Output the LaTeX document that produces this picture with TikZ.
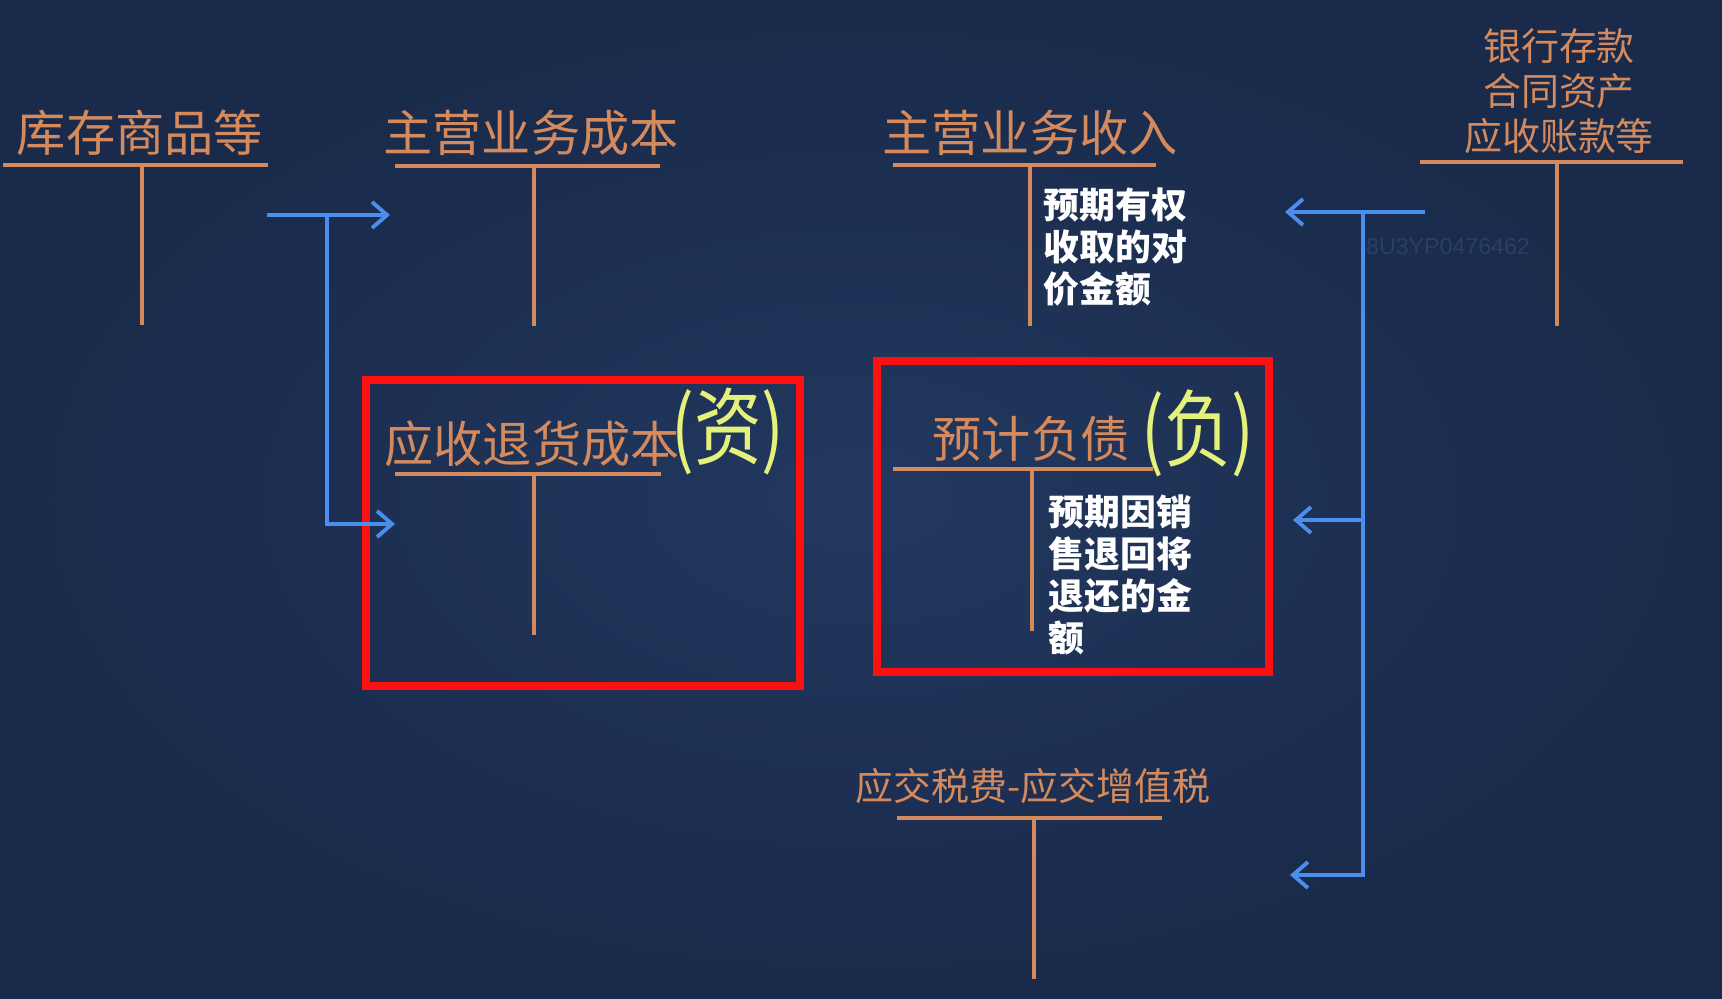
\documentclass[tikz,border=0pt]{standalone}
\usepackage{fontspec}
\usepackage{graphicx}
\setmainfont{Noto Sans CJK SC}
\newfontfamily\wmfont{Liberation Sans}
\usetikzlibrary{arrows.meta}
\definecolor{tbg}{HTML}{22385F}
\definecolor{tbgout}{HTML}{192A4A}
\definecolor{torange}{HTML}{D48A5C}
\definecolor{tblue}{HTML}{4B8EEE}
\definecolor{tred}{HTML}{FF1010}
\definecolor{tyellow}{HTML}{E4F27C}
\definecolor{tmark}{HTML}{2A3F66}
\tikzset{
  >={Straight Barb[length=1.5mm,width=2.6mm]},
  tline/.style={torange, line width=1pt},
  ttitle/.style={torange, font=\fontsize{14}{16}\selectfont, inner sep=0pt},
  tsmall/.style={torange, font=\fontsize{10.8}{12.8}\selectfont, inner sep=0pt,
                 align=center},
  tnote/.style={white, font=\bfseries\fontsize{10.2}{11.9}\selectfont,
                inner sep=0pt, align=left, anchor=west},
  tflow/.style={->, tblue, line width=1.1pt},
  tbox/.style={tred, line width=2.4pt},
  thand/.style={tyellow, font=\fontsize{24}{26}\selectfont, inner sep=0pt},
}

\begin{document}
\begin{tikzpicture}[x=0.1mm,y=-0.1mm]
  \useasboundingbox (0,0) rectangle (1722,998);
  \shade[inner color=tbg, outer color=tbgout] (0,0) rectangle (1722,998);

  % contas T, linha de cima
  \node[ttitle] (kcsp) at (140,133) {库存商品等};
  \draw[tline] (3,165) -- (268,165) (142,165) -- (142,325);

  \node[ttitle] (zycb) at (531,133) {主营业务成本};
  \draw[tline] (395,166) -- (660,166) (534,166) -- (534,326);

  \node[ttitle] (zysr) at (1030,133) {主营业务收入};
  \draw[tline] (893,165) -- (1156,165) (1030,165) -- (1030,326);
  \node[tnote] (srnote) at (1043,247) {预期有权\\收取的对\\价金额};

  \node[tsmall] (yhck) at (1559,91) {银行存款\\合同资产\\应收账款等};
  \draw[tline] (1420,162) -- (1683,162) (1557,162) -- (1557,326);

  % contas T, meio
  \draw[tbox] (366,380) rectangle (800,686);
  \node[ttitle] (ysth) at (532,444) {应收退货成本};
  \draw[tline] (395,474) -- (661,474) (534,474) -- (534,635);
  \node[thand] (zc) at (728,432) {\scalebox{0.8}[1]{(资)}};

  \draw[tbox] (877,361) rectangle (1269,672);
  \node[ttitle] (yjfz) at (1031,439) {预计负债};
  \draw[tline] (893,469) -- (1153,469) (1032,469) -- (1032,631);
  \node[thand] (fz) at (1198,433) {\scalebox{0.8}[1]{(负)}};
  \node[tnote] (fznote) at (1048,575) {预期因销\\售退回将\\退还的金\\额};

  % conta T, baixo
  \node[tsmall] (yjsf) at (1033,786) {应交税费-应交增值税};
  \draw[tline] (897,818) -- (1162,818) (1034,818) -- (1034,979);

  % fluxos
  \coordinate (lstart) at (267,215);
  \coordinate (lfork) at (327,215);
  \coordinate (lend1) at (390,215);
  \coordinate (lend2) at (395,524);
  \draw[tflow] (lstart) -- (lend1);
  \draw[tflow] (lfork) |- (lend2);

  \coordinate (rstart) at (1425,212);
  \coordinate (rfork) at (1363,212);
  \coordinate (rend1) at (1285,212);
  \coordinate (rend2) at (1293,520);
  \coordinate (rend3) at (1290,875);
  \draw[tflow] (rstart) -- (rend1);
  \draw[tflow] (rfork) |- (rend3);
  \draw[tflow] (rfork |- rend2) -- (rend2);

  \node[tmark, font=\wmfont\fontsize{6.6}{8}\selectfont] (wm) at (1448,247) {8U3YP0476462};

\end{tikzpicture}
\end{document}
